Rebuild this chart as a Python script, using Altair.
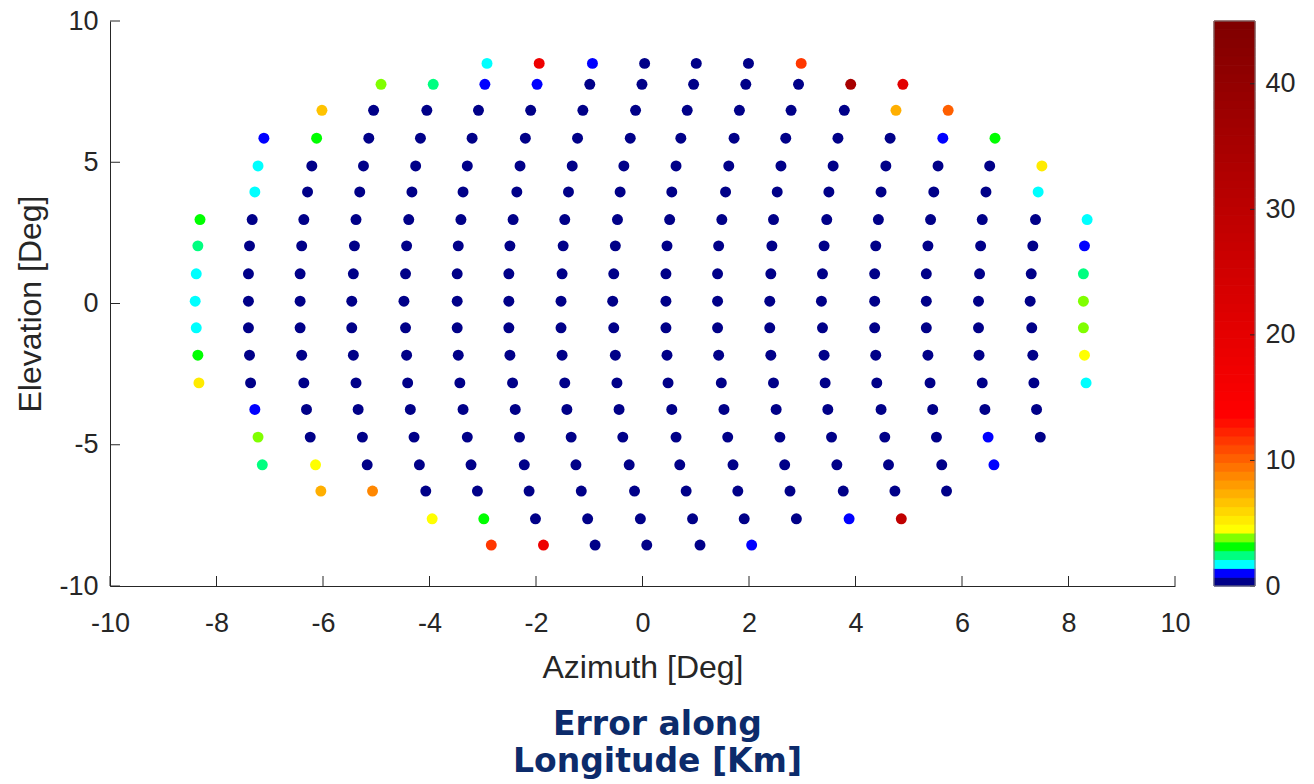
import altair as alt
import pandas as pd

# ---------------- data ----------------
ROW_EL = [8.50, 7.76, 6.84, 5.85, 4.87, 3.95, 2.97, 2.04, 1.05, 0.08,
          -0.86, -1.83, -2.81, -3.75, -4.73, -5.71, -6.64, -7.62, -8.55]

ROW_AZ = [
    [-2.92, -1.94, -0.94, 0.04, 1.01, 1.99, 2.98],
    [-4.91, -3.93, -2.96, -1.98, -0.99, -0.01, 0.96, 1.94, 2.93, 3.91, 4.89],
    [-6.02, -5.05, -4.05, -3.08, -2.10, -1.12, -0.13, 0.84, 1.82, 2.79, 3.79, 4.76, 5.74],
    [-7.11, -6.12, -5.14, -4.17, -3.20, -2.20, -1.22, -0.23, 0.72, 1.72, 2.69, 3.67, 4.65, 5.64, 6.62],
    [-7.22, -6.21, -5.24, -4.26, -3.29, -2.30, -1.32, -0.35, 0.63, 1.62, 2.60, 3.58, 4.57, 5.55, 6.52, 7.50],
    [-7.28, -6.29, -5.31, -4.33, -3.37, -2.36, -1.39, -0.42, 0.55, 1.56, 2.53, 3.50, 4.48, 5.47, 6.45, 7.43],
    [-8.31, -7.33, -6.36, -5.38, -4.39, -3.41, -2.43, -1.46, -0.47, 0.51, 1.49, 2.46, 3.46, 4.43, 5.41, 6.38, 7.38, 8.35],
    [-8.35, -7.38, -6.40, -5.41, -4.43, -3.46, -2.49, -1.49, -0.51, 0.46, 1.43, 2.43, 3.41, 4.38, 5.36, 6.35, 7.33, 8.30],
    [-8.38, -7.40, -6.43, -5.43, -4.45, -3.48, -2.51, -1.51, -0.54, 0.44, 1.41, 2.41, 3.38, 4.36, 5.33, 6.33, 7.30, 8.28],
    [-8.40, -7.40, -6.43, -5.46, -4.48, -3.48, -2.51, -1.53, -0.56, 0.44, 1.41, 2.39, 3.36, 4.36, 5.33, 6.31, 7.28, 8.28],
    [-8.38, -7.40, -6.43, -5.46, -4.45, -3.48, -2.51, -1.53, -0.54, 0.44, 1.41, 2.39, 3.38, 4.36, 5.33, 6.31, 7.31, 8.28],
    [-8.35, -7.38, -6.40, -5.43, -4.43, -3.46, -2.49, -1.51, -0.51, 0.46, 1.43, 2.41, 3.41, 4.38, 5.36, 6.32, 7.33, 8.30],
    [-8.33, -7.36, -6.36, -5.38, -4.41, -3.43, -2.44, -1.46, -0.48, 0.48, 1.48, 2.46, 3.43, 4.40, 5.40, 6.38, 7.35, 8.33],
    [-7.28, -6.31, -5.34, -4.36, -3.37, -2.39, -1.42, -0.44, 0.55, 1.53, 2.51, 3.48, 4.48, 5.45, 6.43, 7.40],
    [-7.22, -6.24, -5.26, -4.29, -3.29, -2.31, -1.34, -0.37, 0.63, 1.60, 2.58, 3.55, 4.55, 5.52, 6.49, 7.47],
    [-7.14, -6.14, -5.17, -4.19, -3.22, -2.22, -1.25, -0.25, 0.70, 1.70, 2.67, 3.65, 4.62, 5.62, 6.60],
    [-6.04, -5.07, -4.07, -3.10, -2.13, -1.15, -0.15, 0.82, 1.79, 2.77, 3.77, 4.74, 5.71],
    [-3.95, -2.98, -2.01, -1.03, -0.04, 0.94, 1.91, 2.89, 3.88, 4.86],
    [-2.84, -1.86, -0.89, 0.08, 1.08, 2.05],
]

ROW_VAL = [
    [1.8, 17.9, 1.0, 0.3, 0.3, 0.3, 11.6],
    [3.9, 2.5, 1.0, 1.0, 0.3, 0.3, 0.3, 0.3, 0.3, 35.0, 21.0],
    [6.7, 0.3, 0.3, 0.3, 0.3, 0.3, 0.3, 0.3, 0.3, 0.3, 0.3, 7.4, 10.4],
    [1.0, 3.2, 0.3, 0.3, 0.3, 0.3, 0.3, 0.3, 0.3, 0.3, 0.3, 0.3, 0.3, 1.0, 3.2],
    [1.8, 0.3, 0.3, 0.3, 0.3, 0.3, 0.3, 0.3, 0.3, 0.3, 0.3, 0.3, 0.3, 0.3, 0.3, 5.3],
    [1.8, 0.3, 0.3, 0.3, 0.3, 0.3, 0.3, 0.3, 0.3, 0.3, 0.3, 0.3, 0.3, 0.3, 0.3, 1.8],
    [3.2, 0.3, 0.3, 0.3, 0.3, 0.3, 0.3, 0.3, 0.3, 0.3, 0.3, 0.3, 0.3, 0.3, 0.3, 0.3, 0.3, 1.8],
    [2.5, 0.3, 0.3, 0.3, 0.3, 0.3, 0.3, 0.3, 0.3, 0.3, 0.3, 0.3, 0.3, 0.3, 0.3, 0.3, 0.3, 1.0],
    [1.8, 0.3, 0.3, 0.3, 0.3, 0.3, 0.3, 0.3, 0.3, 0.3, 0.3, 0.3, 0.3, 0.3, 0.3, 0.3, 0.3, 2.5],
    [1.8, 0.3, 0.3, 0.3, 0.3, 0.3, 0.3, 0.3, 0.3, 0.3, 0.3, 0.3, 0.3, 0.3, 0.3, 0.3, 0.3, 3.9],
    [1.8, 0.3, 0.3, 0.3, 0.3, 0.3, 0.3, 0.3, 0.3, 0.3, 0.3, 0.3, 0.3, 0.3, 0.3, 0.3, 0.3, 3.9],
    [3.2, 0.3, 0.3, 0.3, 0.3, 0.3, 0.3, 0.3, 0.3, 0.3, 0.3, 0.3, 0.3, 0.3, 0.3, 0.3, 0.3, 4.6],
    [5.3, 0.3, 0.3, 0.3, 0.3, 0.3, 0.3, 0.3, 0.3, 0.3, 0.3, 0.3, 0.3, 0.3, 0.3, 0.3, 0.3, 1.8],
    [1.0, 0.3, 0.3, 0.3, 0.3, 0.3, 0.3, 0.3, 0.3, 0.3, 0.3, 0.3, 0.3, 0.3, 0.3, 0.3],
    [3.9, 0.3, 0.3, 0.3, 0.3, 0.3, 0.3, 0.3, 0.3, 0.3, 0.3, 0.3, 0.3, 0.3, 1.0, 0.3],
    [2.5, 4.6, 0.3, 0.3, 0.3, 0.3, 0.3, 0.3, 0.3, 0.3, 0.3, 0.3, 0.3, 0.3, 1.0],
    [7.4, 8.8, 0.3, 0.3, 0.3, 0.3, 0.3, 0.3, 0.3, 0.3, 0.3, 0.3, 0.3],
    [4.6, 3.2, 0.3, 0.3, 0.3, 0.3, 0.3, 0.3, 1.0, 29.0],
    [11.6, 17.9, 0.3, 0.3, 0.3, 1.0],
]

X_TICKS = [-10, -8, -6, -4, -2, 0, 2, 4, 6, 8, 10]
Y_TICKS = [-10, -5, 0, 5, 10]
CB_TICKS = [0, 10, 20, 30, 40]
CB_MAX = 45
N_LEVELS = 64

# ---------------- colormap (64 levels, jet-like low end, red ramp above) ----------------
def _hex(r, g, b):
    return "#%02x%02x%02x" % (int(round(r)), int(round(g)), int(round(b)))

COLORS = ["#000088", "#0000ff", "#00ffff", "#00ff80", "#00ff00", "#80ff00", "#ffff00"]
for k in range(7, 19):
    COLORS.append(_hex(255, 255 - (k - 6) * 20, 0))
for k in range(19, N_LEVELS):
    COLORS.append(_hex(255 - (k - 19) * 127 / 44, 0, 0))
STEP = CB_MAX / N_LEVELS
EDGES = [k * STEP for k in range(1, N_LEVELS)]
cscale = alt.Scale(type="threshold", domain=EDGES, range=COLORS)

records = []
for el, azs, vals in zip(ROW_EL, ROW_AZ, ROW_VAL):
    for az, v in zip(azs, vals):
        records.append({"az": az, "el": el, "val": v})
df = pd.DataFrame(records)

cb_df = pd.DataFrame({
    "lo": [k * STEP for k in range(N_LEVELS)],
    "hi": [(k + 1) * STEP for k in range(N_LEVELS)],
    "val": [(k + 0.5) * STEP for k in range(N_LEVELS)],
})

FONT = "Liberation Sans"
TXT = "#262626"
W, H = 1065, 565
CBW = 41
LBL = "'' + datum.value"

xscale = alt.Scale(domain=[-10, 10], nice=False, zero=False)
yscale = alt.Scale(domain=[-10, 10], nice=False, zero=False)

common = dict(ticks=False, tickSize=0, labelFlush=False, labelOverlap=False, grid=False,
              domainColor=TXT, domainWidth=1, labelColor=TXT, titleColor=TXT,
              labelFont=FONT, titleFont=FONT, labelFontSize=27, titleFontSize=32,
              titleFontWeight="normal", labelExpr=LBL)
x_axis = alt.Axis(values=X_TICKS, title="Azimuth [Deg]", labelPadding=24, titlePadding=16, **common)
y_axis = alt.Axis(values=Y_TICKS, title="Elevation [Deg]", labelPadding=12, titlePadding=11, **common)

pts = alt.Chart(df).mark_circle(size=120, opacity=1).encode(
    x=alt.X("az:Q", scale=xscale, axis=x_axis),
    y=alt.Y("el:Q", scale=yscale, axis=y_axis),
    color=alt.Color("val:Q", scale=cscale, legend=None),
)
xt = alt.Chart(pd.DataFrame({"az": X_TICKS})).mark_rule(color=TXT, strokeWidth=1).encode(
    x=alt.X("az:Q", scale=xscale, axis=x_axis),
    y=alt.value(H), y2=alt.value(H - 10),
)
yt = alt.Chart(pd.DataFrame({"el": Y_TICKS})).mark_rule(color=TXT, strokeWidth=1).encode(
    y=alt.Y("el:Q", scale=yscale, axis=y_axis),
    x=alt.value(0), x2=alt.value(10),
)
main = alt.layer(xt, yt, pts).properties(
    width=W, height=H,
    title=alt.TitleParams(
        text=["Error along", "Longitude [Km]"], orient="bottom", anchor="middle",
        font="DejaVu Sans", fontSize=33, fontWeight="bold", color="#0c2b6b",
        lineHeight=37, offset=26, dx=15,
    ),
)

cbscale = alt.Scale(domain=[0, CB_MAX], nice=False, zero=False)
cb_axis = alt.Axis(values=CB_TICKS, orient="right", title=None, ticks=False, tickSize=0,
                   domain=False, labelPadding=10, labelFlush=False, labelOverlap=False,
                   grid=False, labelColor=TXT, labelFont=FONT, labelFontSize=27, labelExpr=LBL)
cb_rect = alt.Chart(cb_df).mark_rect(strokeWidth=1).encode(
    y=alt.Y("lo:Q", scale=cbscale, axis=cb_axis),
    y2="hi:Q",
    x=alt.value(0), x2=alt.value(CBW),
    color=alt.Color("val:Q", scale=cscale, legend=None),
    stroke=alt.Stroke("val:Q", scale=cscale, legend=None),
)
cb_ticks = alt.Chart(pd.DataFrame({"lo": CB_TICKS})).mark_rule(color=TXT, strokeWidth=1).encode(
    y=alt.Y("lo:Q", scale=cbscale, axis=cb_axis),
    x=alt.value(CBW - 5), x2=alt.value(CBW),
)
cb_frame = alt.Chart(pd.DataFrame({"lo": [0], "hi": [CB_MAX]})).mark_rect(
    fill="transparent", stroke="#7a7a7a", strokeWidth=1
).encode(
    y=alt.Y("lo:Q", scale=cbscale, axis=cb_axis),
    y2="hi:Q",
    x=alt.value(0), x2=alt.value(CBW),
)
colorbar = alt.layer(cb_rect, cb_ticks, cb_frame).properties(width=CBW, height=H)

chart = alt.hconcat(main, colorbar, spacing=22).configure_view(strokeWidth=0).properties(
    padding={"left": 14, "top": 7, "right": 5, "bottom": 0},
    background="white",
)

chart.save("out.html", embed_options={"renderer": "svg", "actions": False})
